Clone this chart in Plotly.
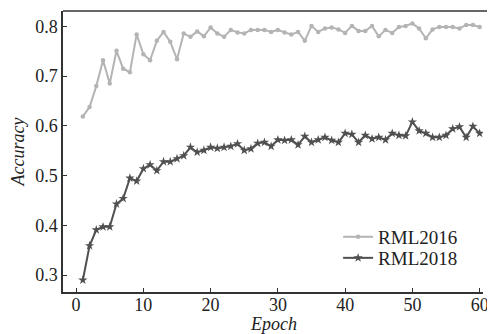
import plotly.graph_objects as go

epochs = list(range(1, 61))
rml2016 = [0.619, 0.638, 0.680, 0.732, 0.685, 0.751, 0.715, 0.708, 0.784, 0.744,
           0.732, 0.771, 0.789, 0.769, 0.734, 0.786, 0.779, 0.790, 0.780, 0.798,
           0.786, 0.779, 0.793, 0.788, 0.786, 0.793, 0.793, 0.793, 0.789, 0.793,
           0.788, 0.784, 0.789, 0.771, 0.801, 0.789, 0.796, 0.798, 0.794, 0.787,
           0.801, 0.791, 0.791, 0.801, 0.780, 0.793, 0.787, 0.799, 0.801, 0.806,
           0.796, 0.776, 0.794, 0.799, 0.799, 0.799, 0.796, 0.803, 0.803, 0.799]
rml2018 = [0.290, 0.359, 0.391, 0.397, 0.397, 0.443, 0.454, 0.495, 0.489, 0.514,
           0.522, 0.510, 0.528, 0.528, 0.534, 0.540, 0.557, 0.547, 0.551, 0.557,
           0.555, 0.557, 0.559, 0.564, 0.551, 0.554, 0.565, 0.567, 0.559, 0.572,
           0.571, 0.572, 0.562, 0.579, 0.567, 0.572, 0.577, 0.571, 0.567, 0.585,
           0.583, 0.567, 0.581, 0.574, 0.577, 0.572, 0.585, 0.581, 0.580, 0.608,
           0.590, 0.585, 0.577, 0.577, 0.581, 0.594, 0.598, 0.577, 0.599, 0.585]
x_ticks = [0, 10, 20, 30, 40, 50, 60]
y_ticks = [0.3, 0.4, 0.5, 0.6, 0.7, 0.8]
x_title = "Epoch"
y_title = "Accuracy"

font_family = "Liberation Serif"
axis_col = "#333333"

fig = go.Figure()
fig.add_trace(go.Scatter(x=epochs, y=rml2016, mode="lines+markers", name="RML2016",
                         legend="legend",
                         line=dict(color="#b4b4b4", width=2),
                         marker=dict(symbol="circle", size=4.5, color="#b4b4b4")))
fig.add_trace(go.Scatter(x=epochs, y=rml2018, mode="lines+markers", name="RML2018",
                         legend="legend2",
                         line=dict(color="#505050", width=2),
                         marker=dict(symbol="star", size=7, color="#505050")))

leg_common = dict(xanchor="left", yanchor="middle", bgcolor="rgba(0,0,0,0)",
                  font=dict(family=font_family, size=19, color="#222222"),
                  itemwidth=30)

# page body has an 8px margin, so margins are offset accordingly
fig.update_layout(
    width=495, height=334,
    margin=dict(l=55, r=20, t=3, b=50, autoexpand=False),
    paper_bgcolor="white", plot_bgcolor="white",
    font=dict(family=font_family, size=18, color="#222222"),
    showlegend=True,
    legend=dict(x=0.655, y=0.196, **leg_common),
    legend2=dict(x=0.655, y=0.121, **leg_common),
    xaxis=dict(range=[-1.95, 60.5], tickvals=x_ticks, ticks="inside", ticklen=4,
               tickcolor=axis_col, showline=True, linecolor=axis_col, linewidth=1.5,
               showgrid=False, zeroline=False, automargin=False,
               ticklabelstandoff=-4),
    yaxis=dict(range=[0.266, 0.831], tickvals=y_ticks, tickformat=".1f",
               ticks="inside", ticklen=4, tickcolor=axis_col, showline=True,
               linecolor=axis_col, linewidth=1.5, showgrid=False, zeroline=False,
               automargin=False,
               title=dict(text=f"<i>{y_title}</i>", standoff=13, font=dict(size=18))),
    shapes=[dict(type="line", xref="paper", yref="paper", x0=0, x1=1.03, y0=1, y1=1,
                 line=dict(color=axis_col, width=1.5))],
    annotations=[dict(text=f"<i>{x_title}</i>", xref="paper", yref="paper",
                      x=0.5, y=-0.113, xanchor="center", yanchor="middle",
                      showarrow=False, font=dict(size=18))],
)

fig.write_html("out.html")
